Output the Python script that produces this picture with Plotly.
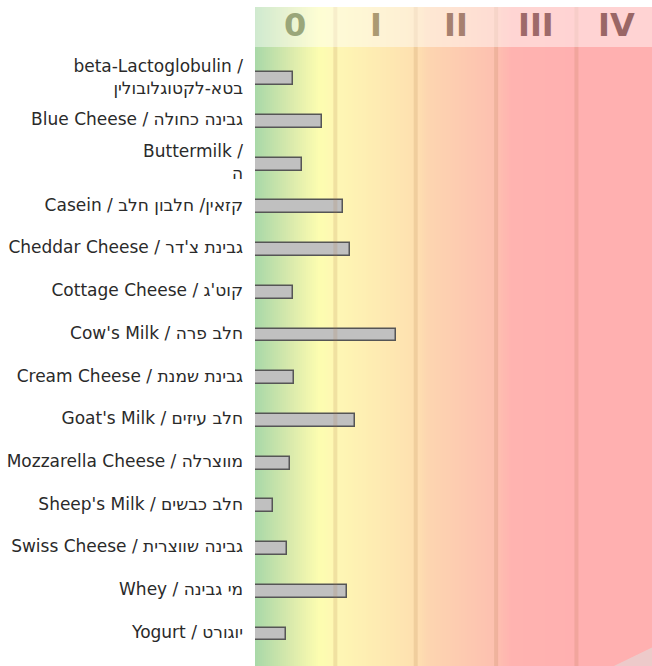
import numpy as np
import plotly.graph_objects as go

# ---- data ----
labels = [
    "beta-Lactoglobulin /<br>בטא-לקטוגלובולין",
    "Blue Cheese / גבינה כחולה",
    "Buttermilk /<br>ה",
    "Casein / קזאין/ חלבון חלב",
    "Cheddar Cheese / גבינת צ'דר",
    "Cottage Cheese / קוט'ג",
    "Cow's Milk / חלב פרה",
    "Cream Cheese / גבינת שמנת",
    "Goat's Milk / חלב עיזים",
    "Mozzarella Cheese / מווצרלה",
    "Sheep's Milk / חלב כבשים",
    "Swiss Cheese / גבינה שווצרית",
    "Whey / מי גבינה",
    "Yogurt / יוגורט",
]
values = [0.47, 0.83, 0.58, 1.10, 1.18, 0.47, 1.76, 0.49, 1.25, 0.44, 0.23, 0.40, 1.15, 0.39]
classes = ["0", "I", "II", "III", "IV"]
class_colors = ["#9aa67a", "#ab9a72", "#a6806f", "#9e6a6a", "#9a6666"]

# ---- geometry / style ----
rows = list(range(len(labels)))
Y_TOP, Y_HEAD, Y_BOT = -1.68, -0.742, 13.75
X_MAX = 4.94

grad_stops = [
    (0.00, (168, 216, 168)),
    (0.45, (218, 234, 172)),
    (0.80, (253, 253, 176)),
    (1.00, (254, 247, 180)),
    (2.00, (254, 224, 176)),
    (2.15, (253, 213, 176)),
    (3.00, (253, 192, 176)),
    (3.20, (255, 179, 176)),
    (4.00, (255, 176, 176)),
    (5.00, (255, 176, 176)),
]
colorscale = [[p / 5.0, "rgb(%d,%d,%d)" % c] for p, c in grad_stops]

gx = np.linspace(0, X_MAX, 200)
fig = go.Figure()
fig.add_trace(go.Heatmap(
    x=gx, y=[Y_TOP, Y_BOT], z=[gx, gx], zmin=0, zmax=5,
    colorscale=colorscale, showscale=False, hoverinfo="skip",
))

# column dividers
dx, dy = [], []
for k in range(1, 5):
    dx += [k, k, None]
    dy += [Y_TOP, Y_BOT, None]
fig.add_trace(go.Scatter(x=dx, y=dy, mode="lines",
                         line=dict(color="rgba(170,110,60,0.16)", width=4),
                         hoverinfo="skip", showlegend=False))

fig.add_trace(go.Bar(
    x=values, y=rows, orientation="h", width=0.3,
    marker=dict(color="#c0c0c0", line=dict(color="#555555", width=1.5)),
    showlegend=False,
))

# header overlay
fig.add_shape(type="rect", xref="x", yref="y", x0=0, x1=X_MAX, y0=Y_TOP, y1=Y_HEAD,
              fillcolor="rgba(255,255,255,0.45)", line=dict(width=0), layer="above")
for i, (c, col) in enumerate(zip(classes, class_colors)):
    fig.add_annotation(x=i + 0.5, y=-1.25, xref="x", yref="y", text="<b>%s</b>" % c,
                       showarrow=False, font=dict(family="DejaVu Sans", size=32, color=col))

# faint corner triangle
fig.add_shape(type="path", xref="paper", yref="paper",
              path="M 0.904 0 L 1 0 L 1 0.028 Z",
              fillcolor="rgba(235,205,205,0.9)", line=dict(width=0), layer="above")

fig.update_layout(
    width=652, height=666,
    margin=dict(l=255, r=0, t=7, b=0),
    paper_bgcolor="white", plot_bgcolor="white",
    showlegend=False, bargap=0,
    font=dict(family="DejaVu Sans", size=17, color="#2a2a2a"),
)
fig.update_xaxes(range=[0, X_MAX], showgrid=False, zeroline=False, showticklabels=False,
                 ticks="", showline=False)
fig.update_yaxes(range=[Y_BOT, Y_TOP], tickvals=[r - 0.05 for r in rows], ticktext=labels,
                 showgrid=False, zeroline=False, ticks="", showline=False,
                 ticklabelstandoff=11,
                 tickfont=dict(family="DejaVu Sans", size=17, color="#2a2a2a"))

fig.write_html("out.html", config={"displayModeBar": False},
               post_script="document.body.style.margin='0';document.body.style.overflow='hidden';")
